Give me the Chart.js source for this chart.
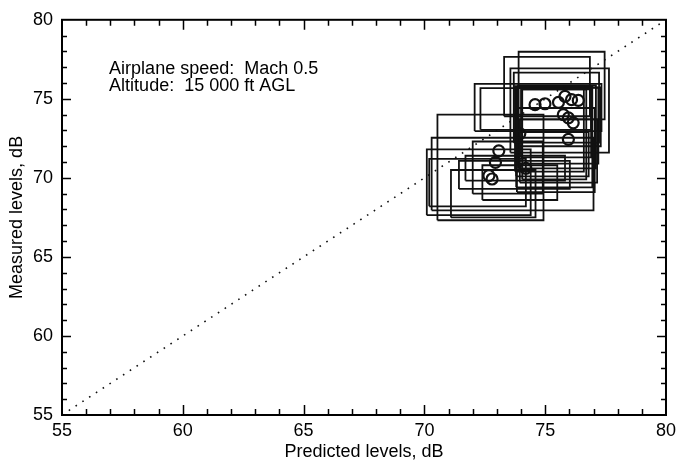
<!DOCTYPE html>
<html>
<head>
<meta charset="utf-8">
<script src="https://cdn.jsdelivr.net/npm/chart.js@4"></script>
<style>
html, body { margin: 0; padding: 0; background: #fff; }
#wrap { width: 681px; height: 463px; }
</style>
</head>
<body>
<div id="wrap"><canvas id="chart1"></canvas></div>
<script>
// axis ranges / tick labels
var xTicks = [55, 60, 65, 70, 75, 80];
var yTicks = [55, 60, 65, 70, 75, 80];
var diagonal = [55, 80];

// circles: predicted vs measured levels, dB
var predicted = [74.58, 74.99, 75.55, 75.82, 76.09, 76.37, 75.75, 75.96, 76.16, 75.96, 73.08, 72.94, 72.67, 72.80, 74.20, 73.95];
var measured  = [74.63, 74.69, 74.78, 75.16, 74.95, 74.90, 74.00, 73.80, 73.48, 72.44, 71.71, 70.98, 70.14, 69.93, 70.60, 72.80];

// uncertainty boxes
var boxLeft   = [73.90, 73.30, 73.56, 73.70, 72.08, 72.32, 70.54, 70.30, 70.10, 71.70, 71.43, 73.83, 73.95, 73.75, 73.85, 74.00, 70.20, 72.00, 72.40, 73.80, 73.80, 73.88, 74.05, 71.10, 73.78];
var boxRight  = [77.46, 76.85, 77.64, 77.23, 77.33, 76.90, 74.93, 77.00, 74.40, 75.82, 76.02, 77.05, 77.15, 76.60, 77.20, 76.90, 74.20, 74.90, 75.50, 76.80, 76.95, 77.10, 76.70, 74.60, 77.30];
var boxBottom = [73.70, 73.90, 71.60, 72.23, 72.96, 73.04, 67.32, 67.95, 67.64, 69.83, 69.30, 69.10, 69.70, 70.40, 70.90, 71.30, 68.20, 69.00, 68.60, 70.10, 69.40, 70.60, 69.90, 67.50, 72.00];
var boxTop    = [77.98, 77.66, 76.93, 76.66, 75.95, 75.68, 74.00, 72.54, 71.80, 71.40, 71.08, 74.42, 73.70, 75.80, 75.70, 75.60, 71.20, 72.30, 70.80, 72.90, 75.75, 75.85, 75.60, 70.50, 75.72];

var notes = ['Airplane speed:  Mach 0.5', 'Altitude:  15 000 ft AGL'];
var noteX = 56.95;
var noteY = [76.6, 75.5];

var FONT = 'Liberation Sans, Arial, Helvetica, sans-serif';

var datasets = [];
datasets.push({
    label: 'y = x',
    data: diagonal.map(v => ({x: v, y: v})),
    showLine: true,
    borderColor: '#111',
    borderWidth: 1.6,
    borderDash: [1.6, 6.5],
    pointRadius: 0
});
for (let i = 0; i < boxLeft.length; i++) {
    datasets.push({
        label: 'box' + i,
        data: [
            {x: boxLeft[i], y: boxBottom[i]},
            {x: boxRight[i], y: boxBottom[i]},
            {x: boxRight[i], y: boxTop[i]},
            {x: boxLeft[i], y: boxTop[i]},
            {x: boxLeft[i], y: boxBottom[i]}
        ],
        showLine: true,
        borderColor: '#111',
        borderWidth: 1.8,
        pointRadius: 0,
        tension: 0
    });
}
datasets.push({
    label: 'levels',
    data: predicted.map((p, i) => ({x: p, y: measured[i]})),
    showLine: false,
    pointStyle: 'circle',
    pointRadius: 5.5,
    borderColor: '#111',
    borderWidth: 2.2,
    backgroundColor: 'rgba(0,0,0,0)'
});

// frame, inward ticks and the annotation text
var framePlugin = {
    id: 'frame',
    afterDatasetsDraw(chart) {
        const c = chart.ctx, a = chart.chartArea;
        const xs = chart.scales.x, ys = chart.scales.y;
        c.save();
        c.strokeStyle = '#000';
        c.lineWidth = 2;
        c.strokeRect(a.left, a.top, a.right - a.left, a.bottom - a.top);
        c.lineWidth = 1.5;
        c.beginPath();
        for (let v = 56; v < 80; v++) {
            let px = Math.round(xs.getPixelForValue(v)) + 0.5;
            let len = v % 5 === 0 ? 10 : 6;
            c.moveTo(px, a.bottom); c.lineTo(px, a.bottom - len);
            c.moveTo(px, a.top); c.lineTo(px, a.top + len);
            let py = Math.round(ys.getPixelForValue(v)) + 0.5;
            let l2 = v % 5 === 0 ? 9 : 5;
            c.moveTo(a.left, py); c.lineTo(a.left + l2, py);
            c.moveTo(a.right, py); c.lineTo(a.right - l2, py);
        }
        c.stroke();
        c.fillStyle = '#000';
        c.font = '18px ' + FONT;
        c.textBaseline = 'alphabetic';
        notes.forEach((t, i) => {
            c.fillText(t, xs.getPixelForValue(noteX), ys.getPixelForValue(noteY[i]));
        });
        c.restore();
    }
};

var ctx1 = document.getElementById('chart1');
var chart1 = new Chart(ctx1, {
    type: 'scatter',
    data: { datasets: datasets },
    options: {
        responsive: true,
        maintainAspectRatio: false,
        animation: false,
        layout: { padding: { top: 15, right: 11, left: 0, bottom: 0 } },
        plugins: { legend: { display: false }, tooltip: { enabled: false } },
        scales: {
            x: {
                type: 'linear',
                min: 55, max: 80,
                afterFit: s => { s.height = 48; },
                afterBuildTicks: s => { s.ticks = xTicks.map(v => ({value: v})); },
                grid: { display: false, drawTicks: false },
                border: { display: false },
                ticks: { color: '#000', padding: 5, font: { family: FONT, size: 18 } },
                title: {
                    display: true, text: 'Predicted levels, dB', color: '#000',
                    font: { family: FONT, size: 18 }, padding: { top: 0, bottom: 0 }
                }
            },
            y: {
                type: 'linear',
                min: 55, max: 80,
                afterFit: s => { s.width = 62; },
                afterBuildTicks: s => { s.ticks = yTicks.map(v => ({value: v})); },
                grid: { display: false, drawTicks: false },
                border: { display: false },
                ticks: { color: '#000', padding: 9, font: { family: FONT, size: 18 } },
                title: {
                    display: true, text: 'Measured levels, dB', color: '#000',
                    font: { family: FONT, size: 18 }, padding: { top: 6, bottom: 0 }
                }
            }
        }
    },
    plugins: [framePlugin]
});
</script>
</body>
</html>
